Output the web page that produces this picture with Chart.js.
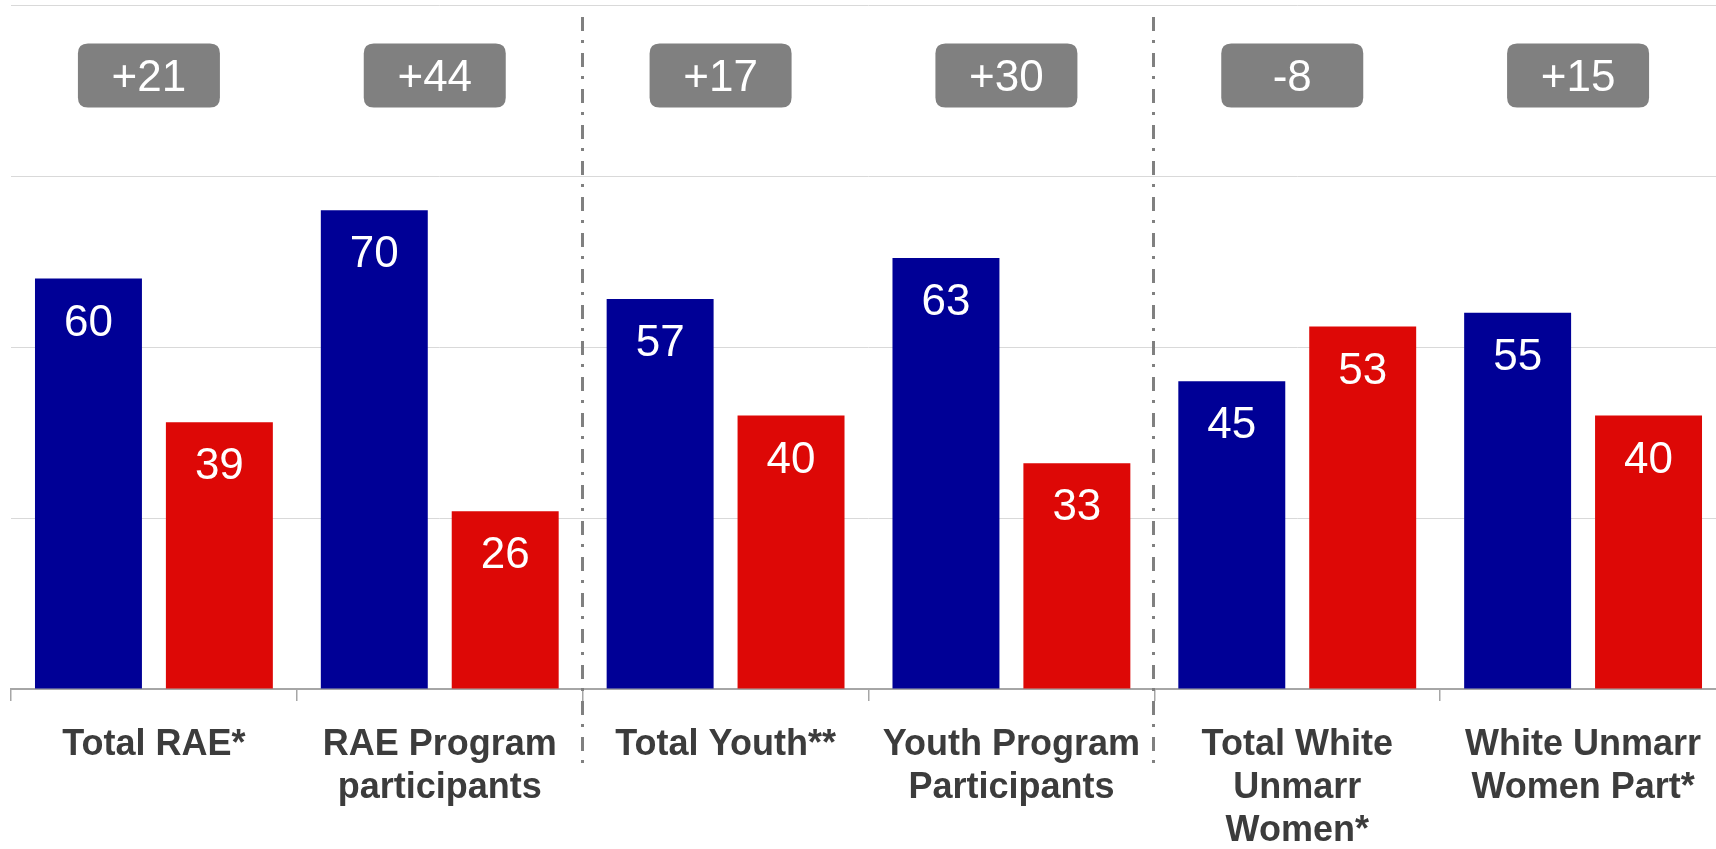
<!DOCTYPE html>
<html>
<head>
<meta charset="utf-8">
<script src="https://cdn.jsdelivr.net/npm/chart.js@4"></script>
<style>
  html, body { margin: 0; padding: 0; background: #ffffff; overflow: hidden; }
  #wrap { position: relative; width: 1740px; height: 849px; }
</style>
</head>
<body>
<div id="wrap"><canvas id="c"></canvas></div>
<script>
// ---- data ----
const categories = [
  ["Total RAE*"],
  ["RAE Program", "participants"],
  ["Total Youth**"],
  ["Youth Program", "Participants"],
  ["Total White", "Unmarr", "Women*"],
  ["White Unmarr", "Women Part*"]
];
const seriesBlue = [60, 70, 57, 63, 45, 55];
const seriesRed  = [39, 26, 40, 33, 53, 40];
const yTicks = [0, 25, 50, 75, 100];
const groupBreaks = [2, 4]; // separator before these category indices

const FONT = "'Liberation Sans', Arial, Helvetica, sans-serif";

const barLabels = {
  id: 'barLabels',
  afterDatasetsDraw(chart) {
    const ctx = chart.ctx;
    ctx.save();
    ctx.fillStyle = '#ffffff';
    ctx.font = '44px ' + FONT;
    ctx.textAlign = 'center';
    ctx.textBaseline = 'middle';
    chart.data.datasets.forEach((ds, di) => {
      const meta = chart.getDatasetMeta(di);
      meta.data.forEach((el, i) => {
        ctx.fillText(String(ds.data[i]), el.x, el.y + 45);
      });
    });
    ctx.restore();
  }
};

function roundRect(ctx, x, y, w, h, r) {
  ctx.beginPath();
  ctx.moveTo(x + r, y);
  ctx.lineTo(x + w - r, y);
  ctx.quadraticCurveTo(x + w, y, x + w, y + r);
  ctx.lineTo(x + w, y + h - r);
  ctx.quadraticCurveTo(x + w, y + h, x + w - r, y + h);
  ctx.lineTo(x + r, y + h);
  ctx.quadraticCurveTo(x, y + h, x, y + h - r);
  ctx.lineTo(x, y + r);
  ctx.quadraticCurveTo(x, y, x + r, y);
  ctx.closePath();
}

const diffBoxes = {
  id: 'diffBoxes',
  afterDatasetsDraw(chart) {
    const ctx = chart.ctx;
    const xs = chart.scales.x, ys = chart.scales.y;
    const cy = ys.getPixelForValue(89.7);
    const w = 142, h = 64;
    ctx.save();
    categories.forEach((c, i) => {
      const d = seriesBlue[i] - seriesRed[i];
      const txt = (d > 0 ? '+' : '') + d;
      const cx = xs.getPixelForValue(i) - 5;
      ctx.fillStyle = '#808080';
      roundRect(ctx, cx - w / 2, cy - h / 2, w, h, 10);
      ctx.fill();
      ctx.fillStyle = '#ffffff';
      ctx.font = '44px ' + FONT;
      ctx.textAlign = 'center';
      ctx.textBaseline = 'middle';
      ctx.fillText(txt, cx, cy + 3);
    });
    ctx.restore();
  }
};

const separators = {
  id: 'separators',
  afterDraw(chart) {
    const ctx = chart.ctx;
    const xs = chart.scales.x;
    ctx.save();
    ctx.strokeStyle = '#808080';
    ctx.lineWidth = 3;
    ctx.setLineDash([14, 9, 3, 10]);
    groupBreaks.forEach(b => {
      const x = Math.round((xs.getPixelForValue(b - 1) + xs.getPixelForValue(b)) / 2) - 0.5;
      ctx.beginPath();
      ctx.moveTo(x, 17);
      ctx.lineTo(x, 763);
      ctx.stroke();
    });
    ctx.restore();
  }
};

new Chart(document.getElementById('c'), {
  type: 'bar',
  data: {
    labels: categories,
    datasets: [
      { data: seriesBlue, backgroundColor: '#000096', categoryPercentage: 0.916, barPercentage: 0.817 },
      { data: seriesRed,  backgroundColor: '#DD0806', categoryPercentage: 0.916, barPercentage: 0.817 }
    ]
  },
  options: {
    responsive: true,
    maintainAspectRatio: false,
    animation: false,
    layout: { padding: { left: 11, right: 14, top: 5, bottom: 0 } },
    plugins: { legend: { display: false }, tooltip: { enabled: false } },
    scales: {
      x: {
        offset: true,
        grid: {
          offset: true,
          drawOnChartArea: false,
          drawTicks: true,
          tickLength: 12,
          color: '#a6a6a6',
          lineWidth: 1.5
        },
        border: { display: true, color: '#a6a6a6', width: 2 },
        ticks: {
          autoSkip: false,
          maxRotation: 0,
          minRotation: 0,
          padding: 22,
          color: '#3c3c3c',
          font: { family: FONT, size: 36, weight: 'bold', lineHeight: 1.2 }
        },
        afterFit(scale) { scale.height = 160; }
      },
      y: {
        min: 0,
        max: 100,
        afterBuildTicks(scale) { scale.ticks = yTicks.map(v => ({ value: v })); },
        ticks: { display: false },
        grid: {
          drawTicks: false,
          color: (c) => (c.tick && c.tick.value === 0 ? 'rgba(0,0,0,0)' : '#d9d9d9'),
          lineWidth: 1
        },
        border: { display: false },
        afterFit(scale) { scale.width = 0; }
      }
    }
  },
  plugins: [barLabels, diffBoxes, separators]
});
</script>
</body>
</html>
